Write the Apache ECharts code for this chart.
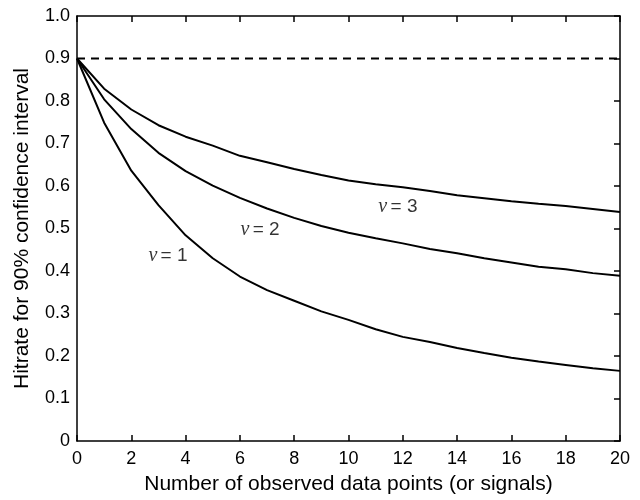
<!DOCTYPE html>
<html>
<head>
<meta charset="utf-8">
<script src="https://cdn.jsdelivr.net/npm/echarts@6/dist/echarts.min.js"></script>
<style>html,body{margin:0;padding:0;background:#fff}#c{width:640px;height:500px}</style>
</head>
<body>
<div id="c"></div>
<script>
const xValues = [0,1,2,3,4,5,6,7,8,9,10,11,12,13,14,15,16,17,18,19,20];
const nu1 = [0.9,0.749,0.636,0.555,0.484,0.43,0.387,0.355,0.33,0.305,0.285,0.263,0.245,0.233,0.219,0.207,0.196,0.187,0.179,0.171,0.165];
const nu2 = [0.9,0.804,0.734,0.678,0.635,0.601,0.572,0.547,0.525,0.506,0.49,0.477,0.465,0.452,0.442,0.43,0.42,0.41,0.404,0.395,0.389];
const nu3 = [0.9,0.829,0.78,0.743,0.716,0.695,0.671,0.656,0.64,0.626,0.613,0.604,0.597,0.588,0.578,0.571,0.564,0.558,0.553,0.546,0.539];
const confidenceLevel = 0.9;
const curveLabels = [
  {name: '1', x: 3.35, y: 0.435},
  {name: '2', x: 6.74, y: 0.498},
  {name: '3', x: 11.82, y: 0.551}
];
const xTitle = 'Number of observed data points (or signals)';
const yTitle = 'Hitrate for 90% confidence interval';

const font = 'Liberation Sans, Arial, Helvetica, sans-serif';
const pair = arr => xValues.map((x, i) => [x, arr[i]]);
const curveStyle = {color: '#000', width: 2};

const chart = echarts.init(document.getElementById('c'), null, {renderer: 'canvas'});
chart.setOption({
  animation: false,
  backgroundColor: '#fff',
  grid: {left: 77, right: 20, top: 16, bottom: 56, containLabel: false},
  xAxis: [
    {type: 'value', min: 0, max: 20, interval: 2, position: 'bottom',
     name: xTitle, nameLocation: 'middle', nameGap: 33,
     nameTextStyle: {fontFamily: font, fontSize: 21, color: '#000'},
     axisLine: {show: true, onZero: false, lineStyle: {color: '#000', width: 1.5}},
     axisTick: {show: true, inside: true, length: 6, lineStyle: {color: '#000', width: 1.5}},
     axisLabel: {fontFamily: font, fontSize: 18, color: '#000', margin: 9},
     splitLine: {show: false}},
    {type: 'value', min: 0, max: 20, interval: 2, position: 'top',
     axisLine: {show: true, onZero: false, lineStyle: {color: '#000', width: 1.5}},
     axisTick: {show: true, inside: true, length: 6, lineStyle: {color: '#000', width: 1.5}},
     axisLabel: {show: false}, splitLine: {show: false}}
  ],
  yAxis: [
    {type: 'value', min: 0, max: 1, interval: 0.1, position: 'left',
     name: yTitle, nameLocation: 'middle', nameGap: 44, nameRotate: 90,
     nameTextStyle: {fontFamily: font, fontSize: 21, color: '#000'},
     axisLine: {show: true, onZero: false, lineStyle: {color: '#000', width: 1.5}},
     axisTick: {show: false},
     axisLabel: {fontFamily: font, fontSize: 18, color: '#000', margin: 7,
       formatter: v => (Math.abs(v) < 1e-9 ? '0' : v.toFixed(1))},
     splitLine: {show: false}},
    {type: 'value', min: 0, max: 1, interval: 0.1, position: 'right',
     axisLine: {show: true, onZero: false, lineStyle: {color: '#000', width: 1.5}},
     axisTick: {show: true, inside: true, length: 6, lineStyle: {color: '#000', width: 1.5}},
     axisLabel: {show: false}, splitLine: {show: false}}
  ],
  series: [
    {type: 'line', data: [[0, confidenceLevel], [20, confidenceLevel]], symbol: 'none',
     lineStyle: {color: '#000', width: 1.8, type: [8, 6]}, silent: true},
    {type: 'line', data: pair(nu1), symbol: 'none', lineStyle: curveStyle, silent: true},
    {type: 'line', data: pair(nu2), symbol: 'none', lineStyle: curveStyle, silent: true},
    {type: 'line', data: pair(nu3), symbol: 'none', lineStyle: curveStyle, silent: true},
    {type: 'scatter', symbolSize: 0, silent: true,
     data: curveLabels.map(l => ({value: [l.x, l.y], name: l.name})),
     label: {show: true, position: 'inside',
       formatter: p => '{nu|ν} {eq|= ' + p.name + '}',
       rich: {
         nu: {fontFamily: 'Liberation Serif, Times New Roman, serif', fontStyle: 'italic', fontSize: 20, color: '#000'},
         eq: {fontFamily: font, fontSize: 19, color: '#000'}
       }}}
  ]
});
</script>
</body>
</html>
